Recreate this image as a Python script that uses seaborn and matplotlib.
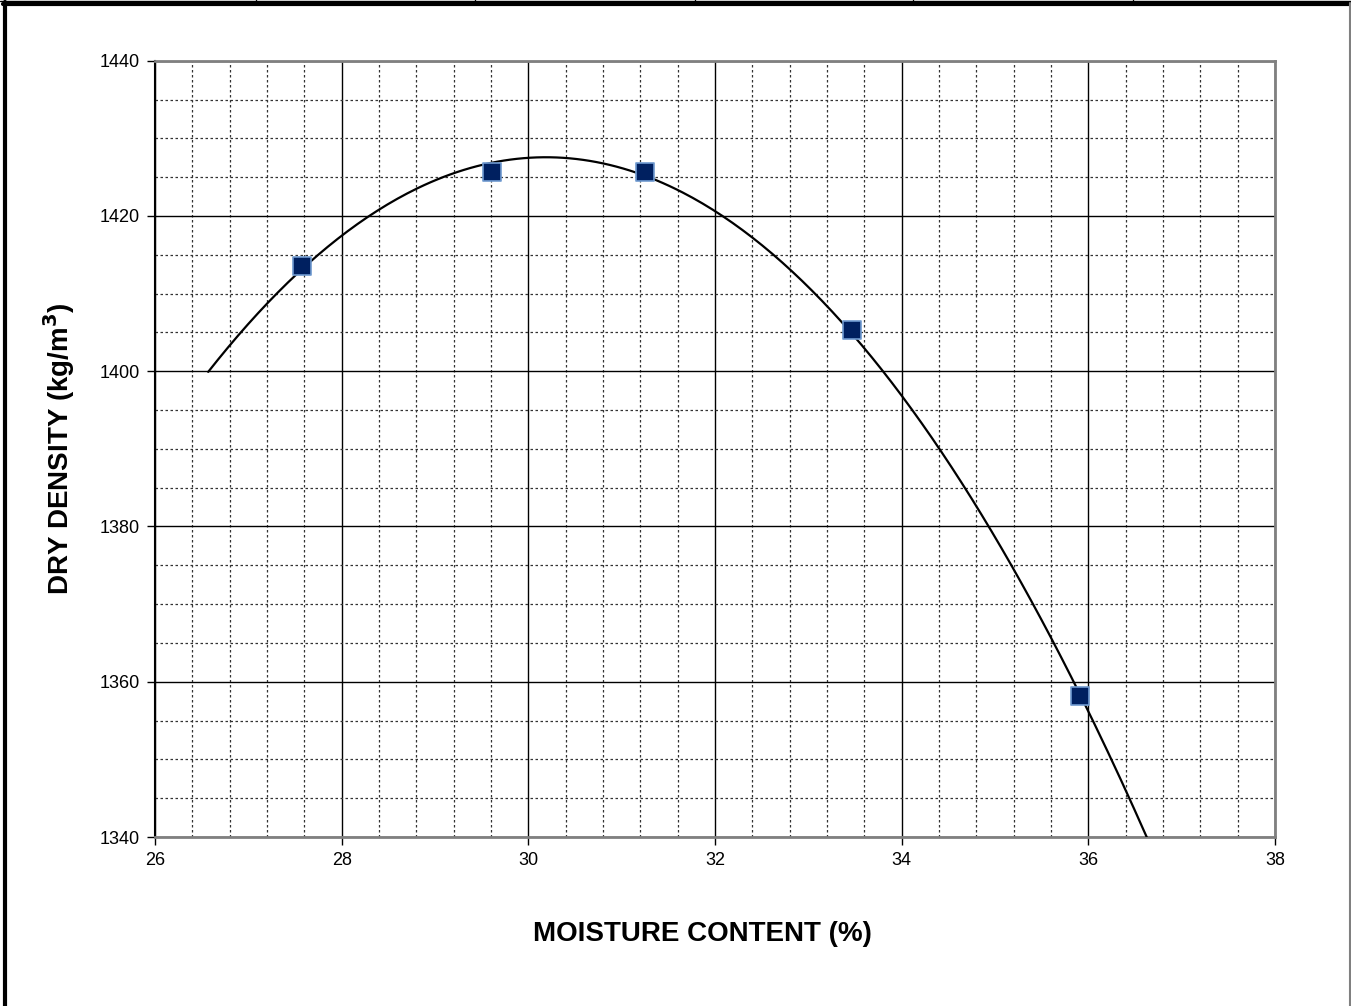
import numpy as np
import pandas as pd
import matplotlib
matplotlib.use("Agg")
import matplotlib.pyplot as plt
from matplotlib.lines import Line2D
from matplotlib.ticker import MultipleLocator
import seaborn as sns

# compaction test points
moisture = [27.57, 29.61, 31.25, 33.47, 35.91]
density = [1413.6, 1425.6, 1425.7, 1405.3, 1358.1]

x_ticks = [26, 28, 30, 32, 34, 36, 38]
y_ticks = [1340, 1360, 1380, 1400, 1420, 1440]

df = pd.DataFrame({"moisture": moisture, "density": density})

# 2nd order trendline like the spreadsheet
coef = np.polyfit(df["moisture"], df["density"], 2)
xs = np.linspace(26.57, 37.2, 300)
trend = pd.DataFrame({"moisture": xs, "density": np.polyval(coef, xs)})

sns.set_style("white")
plt.rcParams["font.family"] = ["Liberation Sans", "DejaVu Sans"]
plt.rcParams["text.color"] = "black"
plt.rcParams["axes.labelcolor"] = "black"
plt.rcParams["xtick.color"] = "black"
plt.rcParams["ytick.color"] = "black"

fig = plt.figure(figsize=(13.51, 10.06), dpi=100)
W, H = 1351, 1006
ax = fig.add_axes([155 / W, 1 - 837 / H, 1120 / W, (837 - 60.7) / H])

sns.lineplot(data=trend, x="moisture", y="density", ax=ax, color="black",
             lw=1.6, sort=False, zorder=3)
sns.scatterplot(data=df, x="moisture", y="density", ax=ax, marker="s", s=175,
                color="#002060", edgecolor="#6f9ad0", linewidth=1.2, zorder=4)

ax.set_xlim(26, 38)
ax.set_ylim(1340, 1440)
ax.set_xticks(x_ticks)
ax.set_yticks(y_ticks)
ax.xaxis.set_minor_locator(MultipleLocator(0.4))
ax.yaxis.set_minor_locator(MultipleLocator(5))

ax.grid(which="major", color="black", lw=1.0, ls="-")
ax.grid(which="minor", color="#333333", lw=0.9, ls=(0, (2, 2)))
ax.set_axisbelow(True)

for side in ["top", "right", "bottom"]:
    ax.spines[side].set_color("#808080")
    ax.spines[side].set_linewidth(2)
ax.spines["left"].set_color("black")
ax.spines["left"].set_linewidth(1.5)

ax.tick_params(which="major", direction="out", length=6, width=1,
               color="black", labelcolor="black", labelsize=13, pad=5,
               bottom=True, left=True)
ax.tick_params(which="minor", length=0)

ax.set_xlabel("MOISTURE CONTENT (%)", fontsize=20, fontweight="bold",
              color="black")
ax.xaxis.set_label_coords(0.489, -0.108)
ax.set_ylabel("DRY DENSITY (kg/m$^\\mathbf{3}$)", fontsize=20,
              fontweight="bold", labelpad=16, color="black")

# page border and table lines at the top
def fl(x0, y0, x1, y1, lw, color="black"):
    fig.add_artist(Line2D([x0 / W, x1 / W], [1 - y0 / H, 1 - y1 / H],
                          transform=fig.transFigure, lw=lw, color=color))

fl(0, 0.5, W, 0.5, 1)
fl(3, 3.5, W, 3.5, 3)
fl(4.5, 2, 4.5, H, 3)
fl(1350, 3, 1350, H, 1.5, "#808080")
for xv in [256, 475, 695, 913, 1133]:
    fl(xv, 0, xv, 3, 1)

fig.savefig("out.png", dpi=100)
